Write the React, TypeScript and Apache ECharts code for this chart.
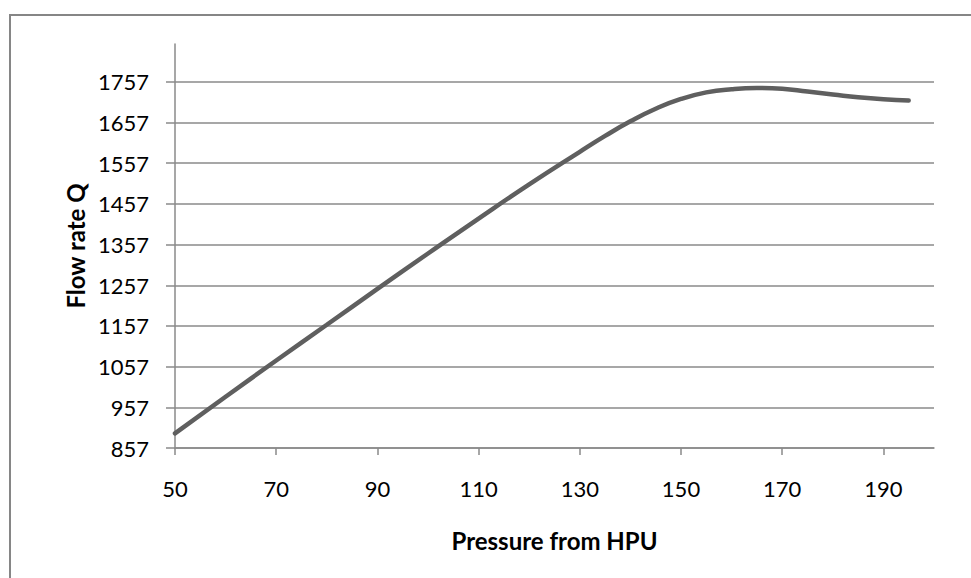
import React, { useEffect, useRef } from "react";
import * as echarts from "echarts";

const PRESSURE = [50, 60, 70, 80, 90, 100, 110, 120, 130, 135, 140, 145, 150, 155, 160, 165, 170, 175, 180, 185, 190, 195];
const FLOW = [893, 983, 1072, 1160, 1248, 1335, 1421, 1505, 1585, 1624, 1660, 1691, 1715, 1731, 1739, 1742, 1740, 1733, 1726, 1719, 1714, 1711];
const X_TICKS = [50, 70, 90, 110, 130, 150, 170, 190];
const Y_TICKS = [857, 957, 1057, 1157, 1257, 1357, 1457, 1557, 1657, 1757];
const X_TITLE = "Pressure from HPU";
const Y_TITLE = "Flow rate Q";

const FONT = "Lato, 'Open Sans', sans-serif";
const GRID_COLOR = "#8a8a8a";

export default function App() {
  const ref = useRef<HTMLDivElement>(null);
  useEffect(() => {
    if (!ref.current) return;
    const chart = echarts.init(ref.current, undefined, { renderer: "svg" });
    chart.setOption({
      animation: false,
      backgroundColor: "#ffffff",
      grid: { left: 175, right: 37, top: 44, bottom: 130 },
      graphic: [
        {
          type: "rect",
          shape: { x: 10, y: 15, width: 1000, height: 620 },
          style: { fill: "none", stroke: "#868686", lineWidth: 2 },
          silent: true,
        },
      ],
      xAxis: {
        type: "value",
        min: 50,
        max: 200,
        name: X_TITLE,
        nameLocation: "middle",
        nameGap: 80,
        nameTextStyle: { fontFamily: FONT, fontSize: 24, fontWeight: "bold", color: "#000" },
        axisLine: { show: true, lineStyle: { color: GRID_COLOR, width: 1.5 } },
        axisTick: { show: true, length: 7, lineStyle: { color: GRID_COLOR, width: 1.5 }, customValues: X_TICKS },
        axisLabel: {
          customValues: X_TICKS,
          margin: 29,
          fontFamily: FONT,
          fontSize: 22,
          color: "#000",
          formatter: (v: number) => String(v),
        },
        splitLine: { show: false },
      },
      yAxis: {
        type: "value",
        min: 857,
        max: 1850,
        name: Y_TITLE,
        nameLocation: "middle",
        nameGap: 82,
        nameTextStyle: { fontFamily: FONT, fontSize: 24, fontWeight: "bold", color: "#000" },
        axisLine: { show: true, lineStyle: { color: GRID_COLOR, width: 1.5 } },
        axisTick: { show: true, length: 9, lineStyle: { color: GRID_COLOR, width: 1.5 }, customValues: Y_TICKS },
        axisLabel: {
          customValues: Y_TICKS,
          margin: 26,
          fontFamily: FONT,
          fontSize: 22,
          color: "#000",
          formatter: (v: number) => String(v),
        },
        splitLine: { show: true, lineStyle: { color: GRID_COLOR, width: 1.5 } },
      },
      series: [
        {
          type: "line",
          data: PRESSURE.map((p, i) => [p, FLOW[i]]),
          smooth: 0.5,
          showSymbol: false,
          lineStyle: { color: "#5f5f5f", width: 4.5, cap: "round" },
        },
      ],
    });
    return () => chart.dispose();
  }, []);
  return <div ref={ref} style={{ position: "absolute", left: 0, top: 0, width: 971, height: 578 }} />;
}
